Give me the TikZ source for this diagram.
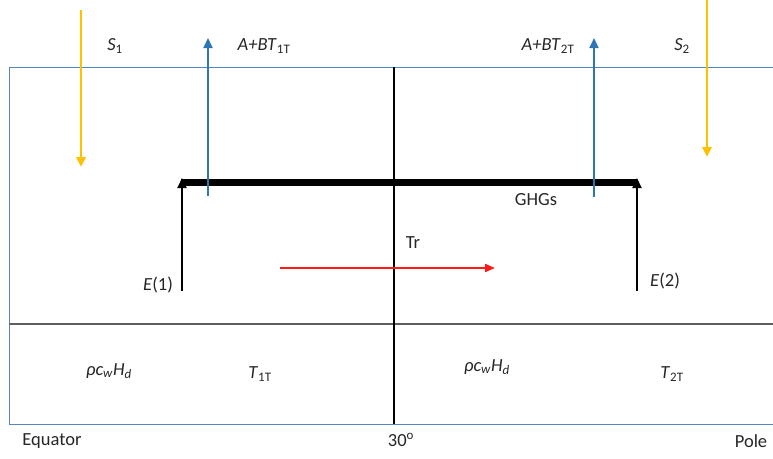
\documentclass[tikz,border=0pt]{standalone}
\usepackage{fontspec}
\setmainfont{Carlito}
\usetikzlibrary{arrows.meta}
\definecolor{sun}{HTML}{FFC000}
\definecolor{olr}{HTML}{2E75B6}
\definecolor{edge}{HTML}{5585BD}
\definecolor{layer}{HTML}{5F5F5F}
\definecolor{flux}{HTML}{FF1A1A}
\newcommand{\lsub}[1]{\textsubscript{#1}}
\tikzset{
  outline/.style={draw=edge,line width=1pt},
  mixed/.style={draw=layer,line width=2pt},
  divide/.style={draw=black,line width=2.5pt},
  ghg/.style={draw=black,line width=7pt},
  solar/.style={draw=sun,line width=2.8pt,-{Triangle[length=10pt,width=9pt]}},
  longwave/.style={draw=olr,line width=2pt,-{Triangle[length=10pt,width=9pt]}},
  emit/.style={draw=black,line width=2pt,-{Triangle[length=10pt,width=9pt]}},
  trans/.style={draw=flux,line width=2pt,-{Triangle[length=10pt,width=8pt]}},
  lbl/.style={inner sep=1pt,text=black!85},
}
\begin{document}
\begin{tikzpicture}[x=1pt,y=-1pt,font=\fontsize{18.5}{21}\selectfont]
  \useasboundingbox (0,0) rectangle (773,458);
  % boxes
  \draw[outline] (773,67) -- (9,67) -- (9,424) -- (773,424);
  \draw[mixed] (9,324) -- (773,324);
  \draw[divide] (394,67) -- (394,424);
  % greenhouse layer
  \coordinate (g1) at (181,182);
  \coordinate (g2) at (637,182);
  \draw[ghg] (g1) -- (g2);
  \node[lbl] (ghgs) at (536,200) {GHGs};
  % solar input
  \coordinate (s1a) at (81,10);
  \coordinate (s1b) at (81,167);
  \draw[solar] (s1a) -- (s1b);
  \node[lbl] (s1) at (115,46) {\textit{S}\lsub{1}};
  \coordinate (s2a) at (707,0);
  \coordinate (s2b) at (707,157);
  \draw[solar] (s2a) -- (s2b);
  \node[lbl] (s2) at (682,46) {\textit{S}\lsub{2}};
  % outgoing longwave
  \coordinate (o1a) at (208,196);
  \coordinate (o1b) at (208,38);
  \draw[longwave] (o1a) -- (o1b);
  \node[lbl] (olr1) at (264,46) {\textit{A+BT}\lsub{1T}};
  \coordinate (o2a) at (594,197);
  \coordinate (o2b) at (594,38);
  \draw[longwave] (o2a) -- (o2b);
  \node[lbl] (olr2) at (548,46) {\textit{A+BT}\lsub{2T}};
  % emissions
  \coordinate (e1) at (182,291);
  \coordinate (e1top) at (182,178);
  \draw[emit] (e1) -- (e1top);
  \node[lbl] (lab1) at (158,285) {\textit{E}(1)};
  \coordinate (e2) at (637,291);
  \coordinate (e2top) at (637,178);
  \draw[emit] (e2) -- (e2top);
  \node[lbl] (lab2) at (665,281) {\textit{E}(2)};
  % transport
  \coordinate (tra) at (280,268);
  \coordinate (trb) at (495,268);
  \draw[trans] (tra) -- (trb);
  \node[lbl] (tr) at (413,243) {Tr};
  % mixed layer
  \node[lbl] (h1) at (109,371) {\textit{ρc}\lsub{\textit{w}}\textit{H}\lsub{\textit{d}}};
  \node[lbl] (t1) at (260,374) {\textit{T}\lsub{1T}};
  \node[lbl] (h2) at (487,367) {\textit{ρc}\lsub{\textit{w}}\textit{H}\lsub{\textit{d}}};
  \node[lbl] (t2) at (672,374) {\textit{T}\lsub{2T}};
  % latitudes
  \node[lbl] (eq) at (52,441) {Equator};
  \node[lbl] (mid) at (401,440) {30\textsuperscript{o}};
  \node[lbl] (pole) at (751,441) {Pole};
\end{tikzpicture}
\end{document}
